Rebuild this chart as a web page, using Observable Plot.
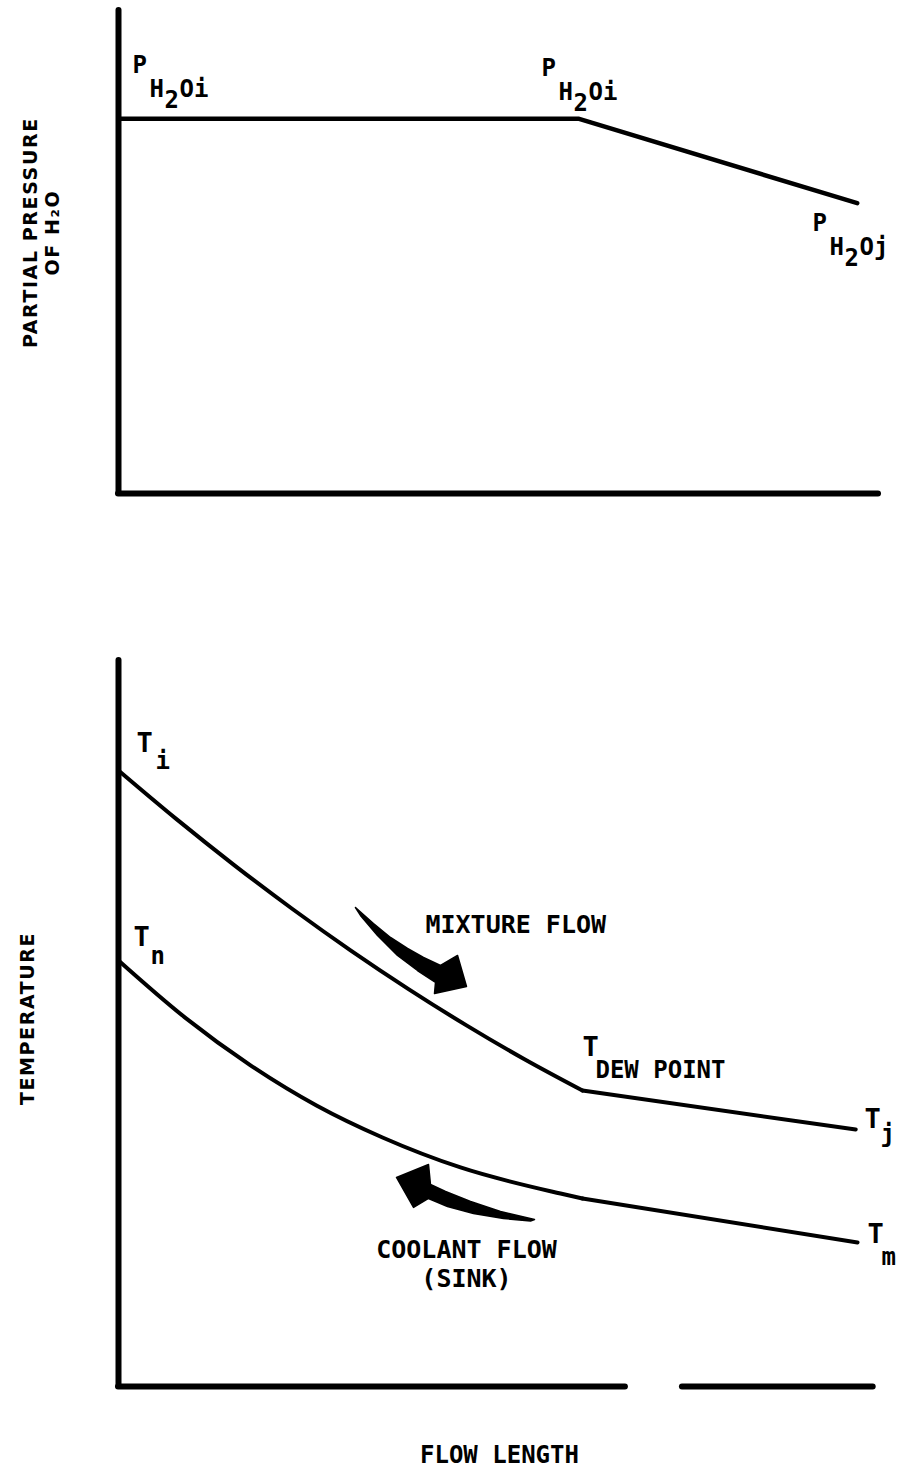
<!DOCTYPE html>
<html><head><meta charset="utf-8">
<script src="https://cdn.jsdelivr.net/npm/d3@7"></script>
<script src="https://cdn.jsdelivr.net/npm/@observablehq/plot@0.6"></script>
<style>body{margin:0;background:#fff;} #chart svg{display:block;}</style>
</head><body><div id="chart"></div>
<script>
// ---------- data (schematic units: flow length 0..100, value 0..100) ----------
// Top panel: partial pressure of H2O along the flow length
const topFlow = [0, 60.5, 97.2];
const topPressure = [77.6, 77.6, 60.1];
const pLabelX = [1.84, 55.66, 91.32];
const pLabelY = [86.96, 86.54, 54.45];
const pLabelSuffix = ["Oi", "Oi", "Oj"];

// Bottom panel: mixture temperature (upper) and coolant temperature (lower)
const dewPointFlow = 61.05;
const mixFlow = [0, 7.63, 15.26, 22.89, 30.53, 38.16, 45.79, 53.42, 61.05, 97.0];
const mixTemp = [84.85, 78.15, 71.79, 65.77, 60.08, 54.74, 49.74, 45.07, 40.76, 35.4];
const coolFlow = [0, 8.68, 17.37, 26.05, 34.74, 45.0, 58.16, 61.05, 97.24];
const coolTemp = [58.68, 50.88, 44.24, 38.71, 34.3, 30.17, 26.58, 25.9, 19.83];

// Flow-direction arrows (outline, schematic units)
const mixArrowX = [31.18, 33.55, 35.79, 38.03, 40.13, 42.37, 44.61, 45.79, 41.58, 41.71, 39.34, 36.71, 34.08, 31.84];
const mixArrowY = [65.98, 63.77, 61.85, 60.33, 59.09, 57.99, 59.37, 55.10, 54.13, 55.65, 57.30, 59.37, 62.12, 64.88];
const coolArrowX = [54.74, 50.26, 46.32, 43.03, 41.05, 40.79, 36.58, 38.82, 40.79, 43.29, 46.71, 50.66, 54.21];
const coolArrowY = [23.00, 24.10, 25.48, 26.86, 27.82, 30.58, 28.79, 24.66, 25.90, 24.79, 23.83, 23.14, 22.80];

// Bottom panel labels: main "T" and its subscript
const tMainX = [2.37, 1.97, 61.05, 98.16, 98.55];
const tMainY = [87.33, 60.74, 45.59, 35.54, 19.70];
const tSubX = [4.87, 4.21, 62.76, 100.26, 100.39];
const tSubY = [85.12, 58.26, 42.56, 33.61, 16.67];
const tSubText = ["i", "n", "DEW POINT", "j", "m"];

// Axis lines of the bottom panel (x axis is broken)
const bottomAxisStart = [0, 74.2];
const bottomAxisEnd = [66.7, 99.3];

// ---------- build tables ----------
const topLine = topFlow.map((x, i) => ({x, y: topPressure[i]}));
const pLabels = pLabelX.map((x, i) => ({x, y: pLabelY[i], suffix: pLabelSuffix[i]}));
const mixLine = mixFlow.map((x, i) => ({x, y: mixTemp[i]}));
const coolLine = coolFlow.map((x, i) => ({x, y: coolTemp[i]}));
const mixArrow = mixArrowX.map((x, i) => ({x, y: mixArrowY[i]}));
const coolArrow = coolArrowX.map((x, i) => ({x, y: coolArrowY[i]}));
const tMain = tMainX.map((x, i) => ({x, y: tMainY[i], t: "T"}));
const tSub = tSubX.map((x, i) => ({x, y: tSubY[i], t: tSubText[i]}));
const bottomAxis = bottomAxisStart.map((x1, i) => ({x1, x2: bottomAxisEnd[i]}));
const before = (d) => d.x <= dewPointFlow;
const after = (d) => d.x >= dewPointFlow;

const mono = {fontFamily: "DejaVu Sans Mono", fontWeight: "bold", textAnchor: "start", lineAnchor: "bottom"};
const title = {fontFamily: "DejaVu Sans", fontWeight: "bold", fontSize: 19, rotate: -90, textAnchor: "middle"};

const topChart = Plot.plot({
  width: 899, height: 560,
  marginLeft: 118, marginRight: 21, marginTop: 10, marginBottom: 67,
  x: {domain: [0, 100], axis: null},
  y: {domain: [0, 100], axis: null},
  style: {background: "white", color: "black", overflow: "visible"},
  marks: [
    Plot.ruleX([0], {y1: 0, y2: 100, strokeWidth: 6, strokeLinecap: "round"}),
    Plot.ruleY([0], {x1: 0, x2: 100, strokeWidth: 6, strokeLinecap: "round"}),
    Plot.line(topLine, {x: "x", y: "y", strokeWidth: 4.5}),
    Plot.text(pLabels, {x: "x", y: "y", text: () => "P", ...mono, fontSize: 24}),
    Plot.text(pLabels, {x: "x", y: "y", text: () => "H", ...mono, fontSize: 24, dx: 17, dy: 24}),
    Plot.text(pLabels, {x: "x", y: "y", text: () => "2", ...mono, fontSize: 24, dx: 32, dy: 35}),
    Plot.text(pLabels, {x: "x", y: "y", text: "suffix", ...mono, fontSize: 24, dx: 47, dy: 24}),
    Plot.text([{x: -10.16, y: 54, t: "PARTIAL PRESSURE\nOF H₂O"}], {x: "x", y: "y", text: "t", ...title, lineAnchor: "middle", lineHeight: 1.12})
  ]
});

const bottomChart = Plot.plot({
  width: 899, height: 909,
  marginLeft: 118, marginRight: 21, marginTop: 100, marginBottom: 83,
  x: {domain: [0, 100], axis: null},
  y: {domain: [0, 100], axis: null},
  style: {background: "white", color: "black", overflow: "visible"},
  marks: [
    Plot.ruleX([0], {y1: 0, y2: 100, strokeWidth: 6, strokeLinecap: "round"}),
    Plot.ruleY(bottomAxis, {x1: "x1", x2: "x2", y: 0, strokeWidth: 6, strokeLinecap: "round"}),
    Plot.line(mixLine.filter(before), {x: "x", y: "y", strokeWidth: 4, curve: "monotone-x"}),
    Plot.line(mixLine.filter(after), {x: "x", y: "y", strokeWidth: 4}),
    Plot.line(coolLine.filter(before), {x: "x", y: "y", strokeWidth: 4, curve: "monotone-x"}),
    Plot.line(coolLine.filter(after), {x: "x", y: "y", strokeWidth: 4}),
    Plot.line(mixArrow, {x: "x", y: "y", curve: "linear-closed", fill: "black", stroke: "black", strokeWidth: 1.5}),
    Plot.line(coolArrow, {x: "x", y: "y", curve: "linear-closed", fill: "black", stroke: "black", strokeWidth: 1.5}),
    Plot.text(tMain, {x: "x", y: "y", text: "t", ...mono, fontSize: 27}),
    Plot.text(tSub, {x: "x", y: "y", text: "t", ...mono, fontSize: 24}),
    Plot.text([{x: 40.39, y: 62.53, t: "MIXTURE FLOW"}], {x: "x", y: "y", text: "t", ...mono, fontSize: 25}),
    Plot.text([{x: 45.79, y: 13.64, t: "COOLANT FLOW\n(SINK)"}], {x: "x", y: "y", text: "t", ...mono, fontSize: 25, textAnchor: "middle", lineHeight: 1.16}),
    Plot.text([{x: 50.13, y: -10.47, t: "FLOW LENGTH"}], {x: "x", y: "y", text: "t", ...mono, fontSize: 24, textAnchor: "middle"}),
    Plot.text([{x: -11.18, y: 50.69, t: "TEMPERATURE"}], {x: "x", y: "y", text: "t", ...title, lineAnchor: "bottom"})
  ]
});

for (const svg of [topChart, bottomChart]) {
  d3.select(svg).selectAll('g[font-family="DejaVu Sans"]').attr("letter-spacing", "1.6px");
}
document.getElementById("chart").append(topChart, bottomChart);
</script>
</body></html>
